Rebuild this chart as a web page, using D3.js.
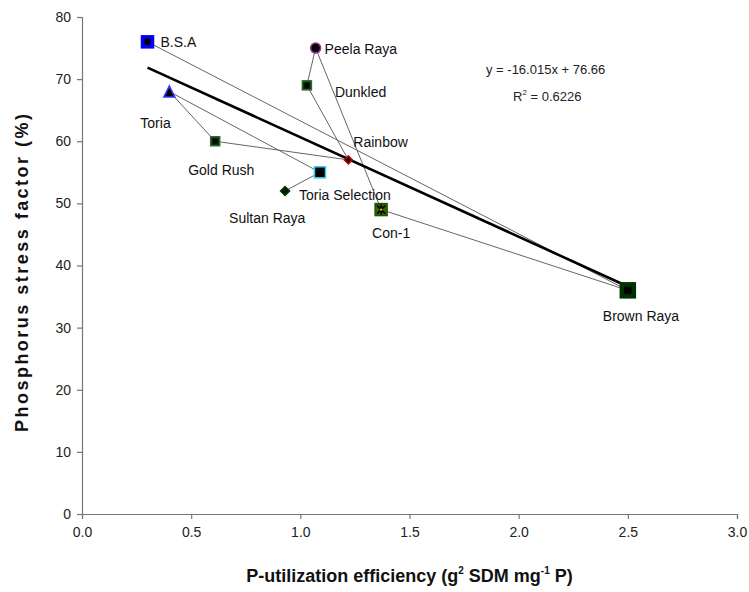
<!DOCTYPE html>
<html>
<head>
<meta charset="utf-8">
<script src="https://cdn.jsdelivr.net/npm/d3@7"></script>
<style>
  body { margin: 0; background: #fff; }
  text { font-family: "Liberation Sans", Arial, sans-serif; }
</style>
</head>
<body>
<div id="chart"></div>
<script>
// data (drawn as one line in this order)
const cultivars = ["Sultan Raya", "Toria Selection", "Toria", "Gold Rush", "Rainbow",
  "Dunkled", "Peela Raya", "Con-1", "Brown Raya", "B.S.A"];
const pue = [0.93, 1.09, 0.40, 0.61, 1.22, 1.03, 1.07, 1.37, 2.50, 0.30];
const psf = [52, 55, 68, 60, 57, 69, 75, 49, 36, 76];

const xTicks = [0, 0.5, 1.0, 1.5, 2.0, 2.5, 3.0];
const yTicks = [0, 10, 20, 30, 40, 50, 60, 70, 80];

// linear trend printed on the chart
const slope = -16.015;
const intercept = 76.66;
const r2 = 0.6226;

// label offsets (px) and marker looks, same order as cultivars
const labelOffsets = [[-56, 32], [-21, 28], [-29, 36], [-27, 34], [5, -13],
  [28, 12], [9, 6], [-9, 28], [-25, 31], [13, 5]];
const markers = [
  { shape: "diamond", size: 9, fill: "#001a00", stroke: "#003300", inner: null },
  { shape: "square", size: 11, fill: "#000", stroke: "#33ccee", inner: null },
  { shape: "triangle", size: 11, fill: "#000", stroke: "#3333ff", inner: null },
  { shape: "square", size: 9, fill: "#003300", stroke: "#336633", inner: "#000" },
  { shape: "diamond", size: 8, fill: "#000", stroke: "#cc0000", inner: null },
  { shape: "square", size: 9, fill: "#003300", stroke: "#336633", inner: "#000" },
  { shape: "circle", size: 10, fill: "#000", stroke: "#993399", inner: null },
  { shape: "square", size: 12, fill: "#336600", stroke: "#225500", inner: "star" },
  { shape: "square", size: 15, fill: "#003300", stroke: "#003300", inner: "#000" },
  { shape: "square", size: 12, fill: "#0000ee", stroke: "#0000ff", inner: "#000" }
];

const width = 749, height = 592;
const margin = { left: 82, right: 12, top: 17, bottom: 78 };

const svg = d3.select("#chart").append("svg")
  .attr("width", width)
  .attr("height", height);

const x = d3.scaleLinear().domain([0, 3]).range([margin.left, width - margin.right]);
const y = d3.scaleLinear().domain([0, 80]).range([height - margin.bottom, margin.top]);

// axes
const xAxis = svg.append("g")
  .attr("transform", `translate(0,${y(0)})`)
  .call(d3.axisBottom(x).tickValues(xTicks).tickFormat(d3.format(".1f")).tickSize(5).tickPadding(8));
const yAxis = svg.append("g")
  .attr("transform", `translate(${x(0)},0)`)
  .call(d3.axisLeft(y).tickValues(yTicks).tickSize(5).tickPadding(6));

[xAxis, yAxis].forEach(function (g) {
  g.select(".domain").attr("stroke", "#777").attr("stroke-width", 1.2);
  g.selectAll(".tick line").attr("stroke", "#777").attr("stroke-width", 1.2);
  g.selectAll(".tick text")
    .attr("fill", "#222")
    .style("font-size", "14px")
    .style("font-family", "'Liberation Sans', Arial, sans-serif");
});

// thin connecting line through the points in data order
const pts = cultivars.map((c, i) => [x(pue[i]), y(psf[i])]);
svg.append("path")
  .attr("d", d3.line()(pts))
  .attr("fill", "none")
  .attr("stroke", "#666")
  .attr("stroke-width", 1);

// trend line from min to max x
const xMin = d3.min(pue), xMax = d3.max(pue);
svg.append("line")
  .attr("x1", x(xMin)).attr("y1", y(slope * xMin + intercept))
  .attr("x2", x(xMax)).attr("y2", y(slope * xMax + intercept))
  .attr("stroke", "#000")
  .attr("stroke-width", 2.6);

// markers
cultivars.forEach(function (c, i) {
  const m = markers[i];
  const g = svg.append("g").attr("transform", `translate(${pts[i][0]},${pts[i][1]})`);
  const s = m.size;
  if (m.shape === "square") {
    g.append("rect").attr("x", -s / 2).attr("y", -s / 2).attr("width", s).attr("height", s)
      .attr("fill", m.fill).attr("stroke", m.stroke).attr("stroke-width", 1.5);
  } else if (m.shape === "circle") {
    g.append("circle").attr("r", s / 2)
      .attr("fill", m.fill).attr("stroke", m.stroke).attr("stroke-width", 1.5);
  } else if (m.shape === "triangle") {
    g.append("path").attr("d", `M0,${-s / 2}L${s / 2},${s / 2}L${-s / 2},${s / 2}Z`)
      .attr("fill", m.fill).attr("stroke", m.stroke).attr("stroke-width", 1.5);
  } else if (m.shape === "diamond") {
    g.append("path").attr("d", `M0,${-s / 2}L${s / 2},0L0,${s / 2}L${-s / 2},0Z`)
      .attr("fill", m.fill).attr("stroke", m.stroke).attr("stroke-width", 1.5);
  }
  if (m.inner === "star") {
    g.append("path").attr("d", "M-4,-4L4,4M4,-4L-4,4M0,-5L0,5")
      .attr("stroke", "#000").attr("stroke-width", 1.6);
    g.append("circle").attr("r", 1.2).attr("fill", "#cccc00");
  } else if (m.inner) {
    const k = s * 0.5;
    g.append("rect").attr("x", -k / 2).attr("y", -k / 2).attr("width", k).attr("height", k)
      .attr("fill", m.inner);
  }
});

// point labels
svg.append("g").selectAll("text")
  .data(cultivars)
  .join("text")
  .attr("x", (d, i) => pts[i][0] + labelOffsets[i][0])
  .attr("y", (d, i) => pts[i][1] + labelOffsets[i][1])
  .attr("fill", "#111")
  .style("font-size", "14px")
  .text(d => d);

// equation and R²
svg.append("text")
  .attr("x", 486).attr("y", 74)
  .attr("fill", "#222")
  .style("font-size", "13px")
  .text(`y = ${slope}x + ${intercept}`);
const r2Text = svg.append("text")
  .attr("x", 513).attr("y", 101)
  .attr("fill", "#222")
  .style("font-size", "13px");
r2Text.append("tspan").text("R");
r2Text.append("tspan").attr("dy", -6).style("font-size", "8px").text("2");
r2Text.append("tspan").attr("dy", 6).text(` = ${r2}`);

// axis titles
svg.append("text")
  .attr("transform", `translate(28,273) rotate(-90)`)
  .attr("text-anchor", "middle")
  .attr("textLength", 318)
  .attr("lengthAdjust", "spacing")
  .style("font-size", "18px")
  .style("font-weight", "bold")
  .attr("fill", "#111")
  .text("Phosphorus stress factor (%)");

const xt = svg.append("text")
  .attr("x", (x(0) + x(3)) / 2)
  .attr("y", 582)
  .attr("text-anchor", "middle")
  .style("font-size", "18px")
  .style("font-weight", "bold")
  .attr("fill", "#111");
xt.append("tspan").text("P-utilization efficiency (g");
xt.append("tspan").attr("dy", -8).style("font-size", "10px").text("2");
xt.append("tspan").attr("dy", 8).text(" SDM mg");
xt.append("tspan").attr("dy", -8).style("font-size", "10px").text("-1");
xt.append("tspan").attr("dy", 8).text(" P)");
</script>
</body>
</html>
